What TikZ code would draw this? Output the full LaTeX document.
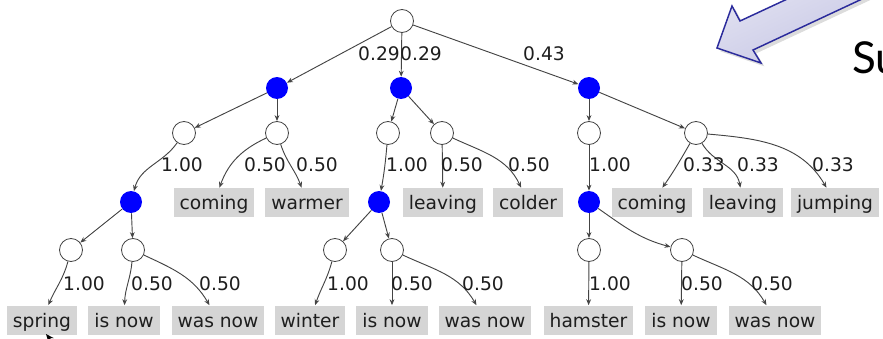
\documentclass[tikz,border=0pt]{standalone}
\usepackage{fontspec}
\newfontfamily\labelfont{DejaVu Sans}
\newfontfamily\headfont{Lato}
\usetikzlibrary{arrows.meta,shadows}
\definecolor{edgegray}{HTML}{444444}
\definecolor{boxgray}{HTML}{D5D5D5}
\definecolor{textdark}{HTML}{1E1E1E}
\definecolor{choiceblue}{HTML}{0000FF}
\definecolor{callout}{HTML}{2B2B9C}
\begin{document}
\begin{tikzpicture}[x=0.75pt,y=-0.75pt,
  every node/.style={font=\labelfont\fontsize{14}{16}\selectfont,text=textdark},
  hollow/.style={circle,draw=edgegray,fill=white,line width=0.6pt,
    minimum size=17.25pt,inner sep=0pt},
  chance/.style={circle,fill=choiceblue,draw=none,minimum size=16.5pt,inner sep=0pt},
  word/.style={rectangle,fill=boxgray,inner xsep=4.5pt,inner ysep=0pt,
    minimum height=21.75pt,text height=12.5pt,text depth=2pt},
  prob/.style={inner sep=0pt},
  e/.style={draw=edgegray,line width=0.7pt,-{Stealth[length=4.5pt,width=3.6pt]}}
]
\clip (0,0) rectangle (883,339);

% ---- tree nodes ----
\node[hollow] (root) at (402,21) {};
\node[chance] (b1) at (277,88) {};
\node[chance] (b2) at (401,88) {};
\node[chance] (b3) at (589,88) {};

\node[hollow] (w11) at (184,133) {};
\node[hollow] (w12) at (277,133) {};
\node[hollow] (w21) at (388,133) {};
\node[hollow] (w22) at (442,133) {};
\node[hollow] (w31) at (589,133) {};
\node[hollow] (w32) at (696,133) {};

\node[chance] (b1d) at (131,202) {};
\node[chance] (b2d) at (379,202) {};
\node[chance] (b3d) at (589,202) {};

\node[word] (coming1)  at (214,202.5) {coming};
\node[word] (warmer)   at (307,202.5) {warmer};
\node[word] (leaving1) at (443,202.5) {leaving};
\node[word] (colder)   at (528,202.5) {colder};
\node[word] (coming2)  at (652,202.5) {coming};
\node[word] (leaving2) at (743,202.5) {leaving};
\node[word] (jumping)  at (835,202.5) {jumping};

\node[hollow] (w41) at (71,250) {};
\node[hollow] (w42) at (133,250) {};
\node[hollow] (w51) at (335,250) {};
\node[hollow] (w52) at (392,250) {};
\node[hollow] (w61) at (589,250) {};
\node[hollow] (w62) at (682,250) {};

\node[word] (spring)   at (42,320)    {spring};
\node[word] (isnow1)   at (124,320)   {is now};
\node[word] (wasnow1)  at (218,320)   {was now};
\node[word] (winter)   at (310,320)   {winter};
\node[word] (isnow2)   at (392,320)   {is now};
\node[word] (wasnow2)  at (485,320)   {was now};
\node[word] (hamster)  at (588.5,320) {hamster};
\node[word] (isnow3)   at (681,320)   {is now};
\node[word] (wasnow3)  at (775,320)   {was now};

% ---- connectors ----
\draw[e] (root) -- (b1);
\draw[e] (root) -- (b2);
\draw[e] (root) -- (b3);

\draw[e] (b1) -- (w11);
\draw[e] (b1) -- (w12);
\draw[e] (b2) -- (w21);
\draw[e] (b2) -- (w22);
\draw[e] (b3) -- (w31);
\draw[e] (b3) -- (w32);

\draw[e] (w11) to[out=235,in=75] (b1d);
\draw[e] (w12) to[out=205,in=70] (coming1);
\draw[e] (w12) to[out=-72,in=110] (warmer);
\draw[e] (w21) to[out=-95,in=80] (b2d);
\draw[e] (w22) -- (leaving1);
\draw[e] (w22) to[out=-25,in=115] (colder);
\draw[e] (w31) -- (b3d);
\draw[e] (w32) to[out=-120,in=55] (coming2);
\draw[e] (w32) to[out=-60,in=100] (leaving2);
\draw[e] (w32) to[out=-5,in=120] (jumping);

\draw[e] (b1d) -- (w41);
\draw[e] (b1d) -- (w42);
\draw[e] (b2d) -- (w51);
\draw[e] (b2d) -- (w52);
\draw[e] (b3d) -- (w61);
\draw[e] (b3d) to[out=-35,in=165] (w62);

\draw[e] (w41) to[out=-105,in=67] (spring);
\draw[e] (w42) to[out=-95,in=88] (isnow1);
\draw[e] (w42) to[out=-25,in=120] (wasnow1);
\draw[e] (w51) to[out=-105,in=71] (winter);
\draw[e] (w52) -- (isnow2);
\draw[e] (w52) to[out=-25,in=120] (wasnow2);
\draw[e] (w61) -- (hamster);
\draw[e] (w62) -- (isnow3);
\draw[e] (w62) to[out=-25,in=120] (wasnow3);

% ---- edge probabilities ----
\node[prob] (p1)  at (379,53.5) {0.29};
\node[prob] (p2)  at (421,53.5) {0.29};
\node[prob] (p3)  at (544,53.5) {0.43};

\node[prob] (q1)  at (182,165) {1.00};
\node[prob] (q2)  at (265,165) {0.50};
\node[prob] (q3)  at (317,165) {0.50};
\node[prob] (q4)  at (407,165) {1.00};
\node[prob] (q5)  at (462,165) {0.50};
\node[prob] (q6)  at (529,165) {0.50};
\node[prob] (q7)  at (610,165) {1.00};
\node[prob] (q8)  at (704,165) {0.33};
\node[prob] (q9)  at (758,165) {0.33};
\node[prob] (q10) at (833,165) {0.33};

\node[prob] (r1) at (84,283.5)  {1.00};
\node[prob] (r2) at (152,283.5) {0.50};
\node[prob] (r3) at (220,283.5) {0.50};
\node[prob] (r4) at (348,283.5) {1.00};
\node[prob] (r5) at (412,283.5) {0.50};
\node[prob] (r6) at (483,283.5) {0.50};
\node[prob] (r7) at (610,283.5) {1.00};
\node[prob] (r8) at (702,283.5) {0.50};
\node[prob] (r9) at (772,283.5) {0.50};

% ---- pointer below "spring" ----
\coordinate (ptrTail) at (64,356);
\coordinate (ptrTip) at (46,334);
\draw[draw=black,line width=0.9pt,-{Stealth[length=6pt,width=5pt]}] (ptrTail) -- (ptrTip);

% ---- callout arrow and heading ----
\filldraw[draw=callout,line width=1.1pt,top color=white!75!callout!35,bottom color=callout!30,
  shading angle=25,
  drop shadow={shadow xshift=2.5pt,shadow yshift=-2.5pt,opacity=0.28}]
  (717,48) -- (732,6) -- (740,21) -- (940,-72) -- (953,-43.5) -- (753,50) -- (761,63) -- cycle;
\node[font=\headfont\fontsize{33}{36}\selectfont,text=black,anchor=base west,inner sep=0pt]
  (heading) at (852,74) {Su};
\end{tikzpicture}
\end{document}
